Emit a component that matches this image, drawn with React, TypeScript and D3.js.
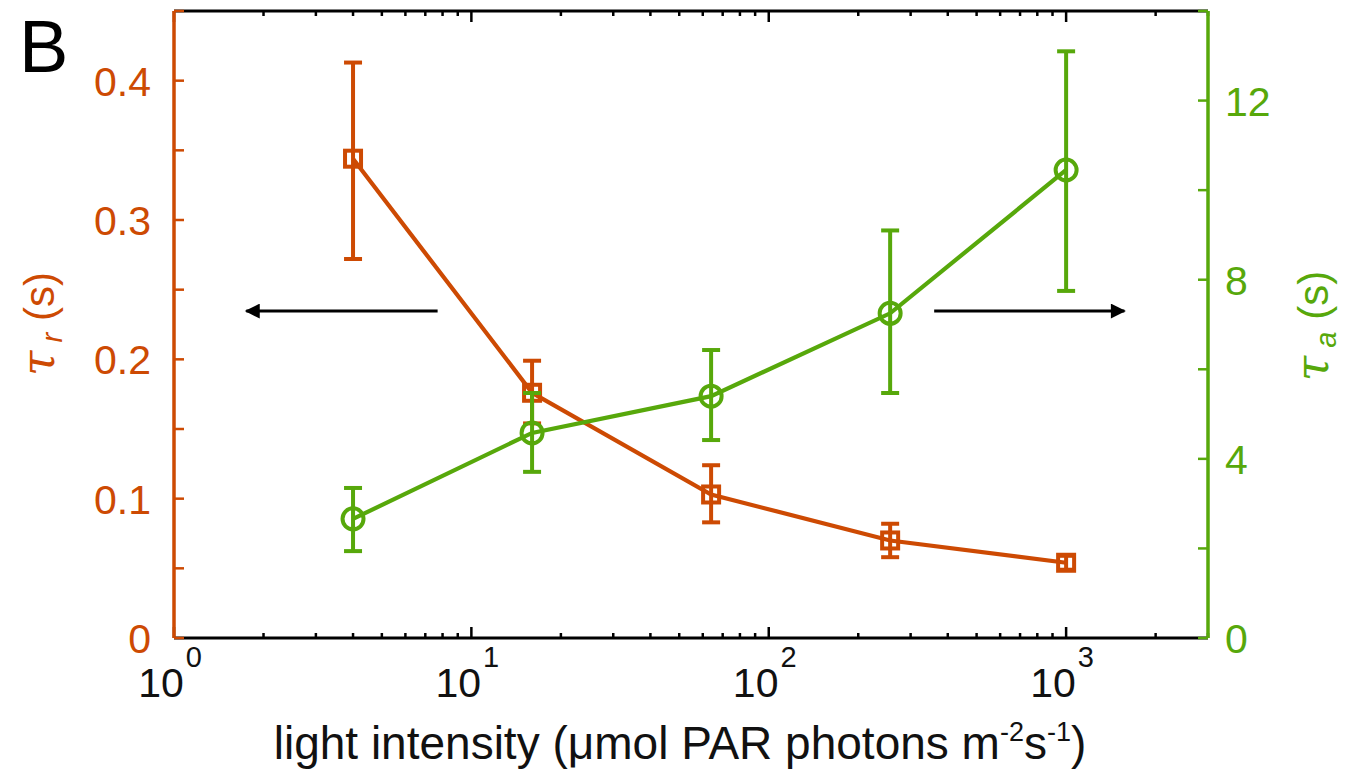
import React from "react";
import * as d3 from "d3";

const intensity = [4, 16, 64, 256, 1000];
const tauR = [0.344, 0.176, 0.103, 0.07, 0.054];
const tauRLow = [0.272, 0.154, 0.083, 0.058, 0.049];
const tauRHigh = [0.413, 0.199, 0.124, 0.082, 0.059];
const tauA = [2.66, 4.58, 5.4, 7.25, 10.45];
const tauALow = [1.94, 3.71, 4.42, 5.47, 7.75];
const tauAHigh = [3.35, 5.47, 6.43, 9.1, 13.1];
const xMajorTicks = [1, 10, 100, 1000];
const leftTickLabels = [0, 0.1, 0.2, 0.3, 0.4];
const rightTickLabels = [0, 4, 8, 12];

const W = 1354, H = 771;
const M = { left: 174, right: 1208, top: 11, bottom: 638 };
const ORANGE = "#CD4A03";
const GREEN = "#57A80B";
const FONT = "'Liberation Sans', Arial, sans-serif";

export default function App() {
  const x = d3.scaleLog().domain([1, 3000]).range([M.left, M.right]);
  const yL = d3.scaleLinear().domain([0, 0.45]).range([M.bottom, M.top]);
  const yR = d3.scaleLinear().domain([0, 14]).range([M.bottom, M.top]);

  const minorX: number[] = [];
  for (let d = 1; d <= 1000; d *= 10) {
    for (let k = 2; k <= 9; k++) if (d * k <= 3000) minorX.push(d * k);
  }
  const leftTicks = d3.range(0, 0.4501, 0.05);
  const rightTicks = d3.range(0, 14.01, 2);

  const lineR = d3.line<number>().x((_, i) => x(intensity[i])).y((d) => yL(d));
  const lineA = d3.line<number>().x((_, i) => x(intensity[i])).y((d) => yR(d));

  const cap = 9;
  const arrowY = yR(7.3);

  return (
    <svg width={W} height={H} style={{ position: "absolute", left: 0, top: 0, background: "#fff" }}>
      <defs>
        <marker id="ah" viewBox="0 0 10 10" refX="9" refY="5" markerWidth="6.5" markerHeight="5" orient="auto-start-reverse" markerUnits="strokeWidth">
          <path d="M0,0 L10,5 L0,10 z" fill="#000" />
        </marker>
      </defs>

      {/* panel label */}
      <text x={19} y={72} fontFamily={FONT} fontSize={74} fill="#000">B</text>

      {/* x minor/major ticks bottom & top */}
      {minorX.map((v) => (
        <g key={"mx" + v}>
          <line x1={x(v)} x2={x(v)} y1={M.bottom} y2={M.bottom - 5} stroke="#000" strokeWidth={2.5} />
          <line x1={x(v)} x2={x(v)} y1={M.top} y2={M.top + 5} stroke="#000" strokeWidth={2.5} />
        </g>
      ))}
      {xMajorTicks.map((v) => (
        <g key={"Mx" + v}>
          <line x1={x(v)} x2={x(v)} y1={M.bottom} y2={M.bottom - 11} stroke="#000" strokeWidth={2.5} />
          <line x1={x(v)} x2={x(v)} y1={M.top} y2={M.top + 11} stroke="#000" strokeWidth={2.5} />
          <text x={x(v) - 4} y={697} fontFamily={FONT} fontSize={41} fill="#111" textAnchor="middle">
            10
            <tspan dx={2} dy={-30} fontSize={29}>{Math.round(Math.log10(v))}</tspan>
          </text>
        </g>
      ))}

      {/* frame top/bottom */}
      <line x1={M.left} x2={M.right} y1={M.bottom} y2={M.bottom} stroke="#000" strokeWidth={3} />
      <line x1={M.left} x2={M.right} y1={M.top} y2={M.top} stroke="#000" strokeWidth={3} />

      {/* left axis */}
      <line x1={M.left} x2={M.left} y1={M.top} y2={M.bottom} stroke={ORANGE} strokeWidth={3.5} />
      {leftTicks.map((v) => (
        <line key={"lt" + v} x1={M.left} x2={M.left + 10} y1={yL(v)} y2={yL(v)} stroke={ORANGE} strokeWidth={2.5} />
      ))}
      {leftTickLabels.map((v) => (
        <text key={"ll" + v} x={151} y={yL(v) + 15} fontFamily={FONT} fontSize={41} fill={ORANGE} textAnchor="end">
          {v === 0 ? "0" : v.toFixed(1)}
        </text>
      ))}

      {/* right axis */}
      <line x1={M.right} x2={M.right} y1={M.top} y2={M.bottom} stroke={GREEN} strokeWidth={3.5} />
      {rightTicks.map((v) => (
        <line key={"rt" + v} x1={M.right} x2={M.right - 10} y1={yR(v)} y2={yR(v)} stroke={GREEN} strokeWidth={2.5} />
      ))}
      {rightTickLabels.map((v) => (
        <text key={"rl" + v} x={1225} y={yR(v) + 15} fontFamily={FONT} fontSize={41} fill={GREEN} textAnchor="start">
          {v}
        </text>
      ))}

      {/* axis titles */}
      <text x={680} y={759} fontFamily={FONT} fontSize={46} fill="#111" textAnchor="middle">
        light intensity (μmol PAR photons m
        <tspan dy={-18} fontSize={27}>-2</tspan>
        <tspan dy={18}>s</tspan>
        <tspan dy={-18} fontSize={27}>-1</tspan>
        <tspan dy={18}>)</tspan>
      </text>
      <text transform={`translate(54,324) rotate(-90)`} fontFamily={FONT} fontSize={42} fill={ORANGE} textAnchor="middle">
        <tspan fontFamily="'DejaVu Serif', serif" fontStyle="italic" fontSize={46}>τ</tspan>
        <tspan fontStyle="italic" fontSize={29} dy={8}> r</tspan>
        <tspan dy={-8}> (s)</tspan>
      </text>
      <text transform={`translate(1328,326) rotate(-90)`} fontFamily={FONT} fontSize={42} fill={GREEN} textAnchor="middle">
        <tspan fontFamily="'DejaVu Serif', serif" fontStyle="italic" fontSize={46}>τ</tspan>
        <tspan fontStyle="italic" fontSize={29} dy={8}> a</tspan>
        <tspan dy={-8}> (s)</tspan>
      </text>

      {/* arrows */}
      <line x1={x(7.7)} x2={x(1.75)} y1={arrowY} y2={arrowY} stroke="#000" strokeWidth={3} markerEnd="url(#ah)" />
      <line x1={x(360)} x2={x(1570)} y1={arrowY} y2={arrowY} stroke="#000" strokeWidth={3} markerEnd="url(#ah)" />

      {/* orange series */}
      <path d={lineR(tauR) || ""} fill="none" stroke={ORANGE} strokeWidth={4.2} />
      {intensity.map((v, i) => (
        <g key={"r" + v} stroke={ORANGE} strokeWidth={4} fill="none">
          <line x1={x(v)} x2={x(v)} y1={yL(tauRLow[i])} y2={yL(tauRHigh[i])} />
          <line x1={x(v) - cap} x2={x(v) + cap} y1={yL(tauRLow[i])} y2={yL(tauRLow[i])} />
          <line x1={x(v) - cap} x2={x(v) + cap} y1={yL(tauRHigh[i])} y2={yL(tauRHigh[i])} />
          <rect x={x(v) - 8} y={yL(tauR[i]) - 8} width={16} height={16} />
        </g>
      ))}

      {/* green series */}
      <path d={lineA(tauA) || ""} fill="none" stroke={GREEN} strokeWidth={4.2} />
      {intensity.map((v, i) => (
        <g key={"a" + v} stroke={GREEN} strokeWidth={4} fill="none">
          <line x1={x(v)} x2={x(v)} y1={yR(tauALow[i])} y2={yR(tauAHigh[i])} />
          <line x1={x(v) - cap} x2={x(v) + cap} y1={yR(tauALow[i])} y2={yR(tauALow[i])} />
          <line x1={x(v) - cap} x2={x(v) + cap} y1={yR(tauAHigh[i])} y2={yR(tauAHigh[i])} />
          <circle cx={x(v)} cy={yR(tauA[i])} r={10.5} />
        </g>
      ))}
    </svg>
  );
}
